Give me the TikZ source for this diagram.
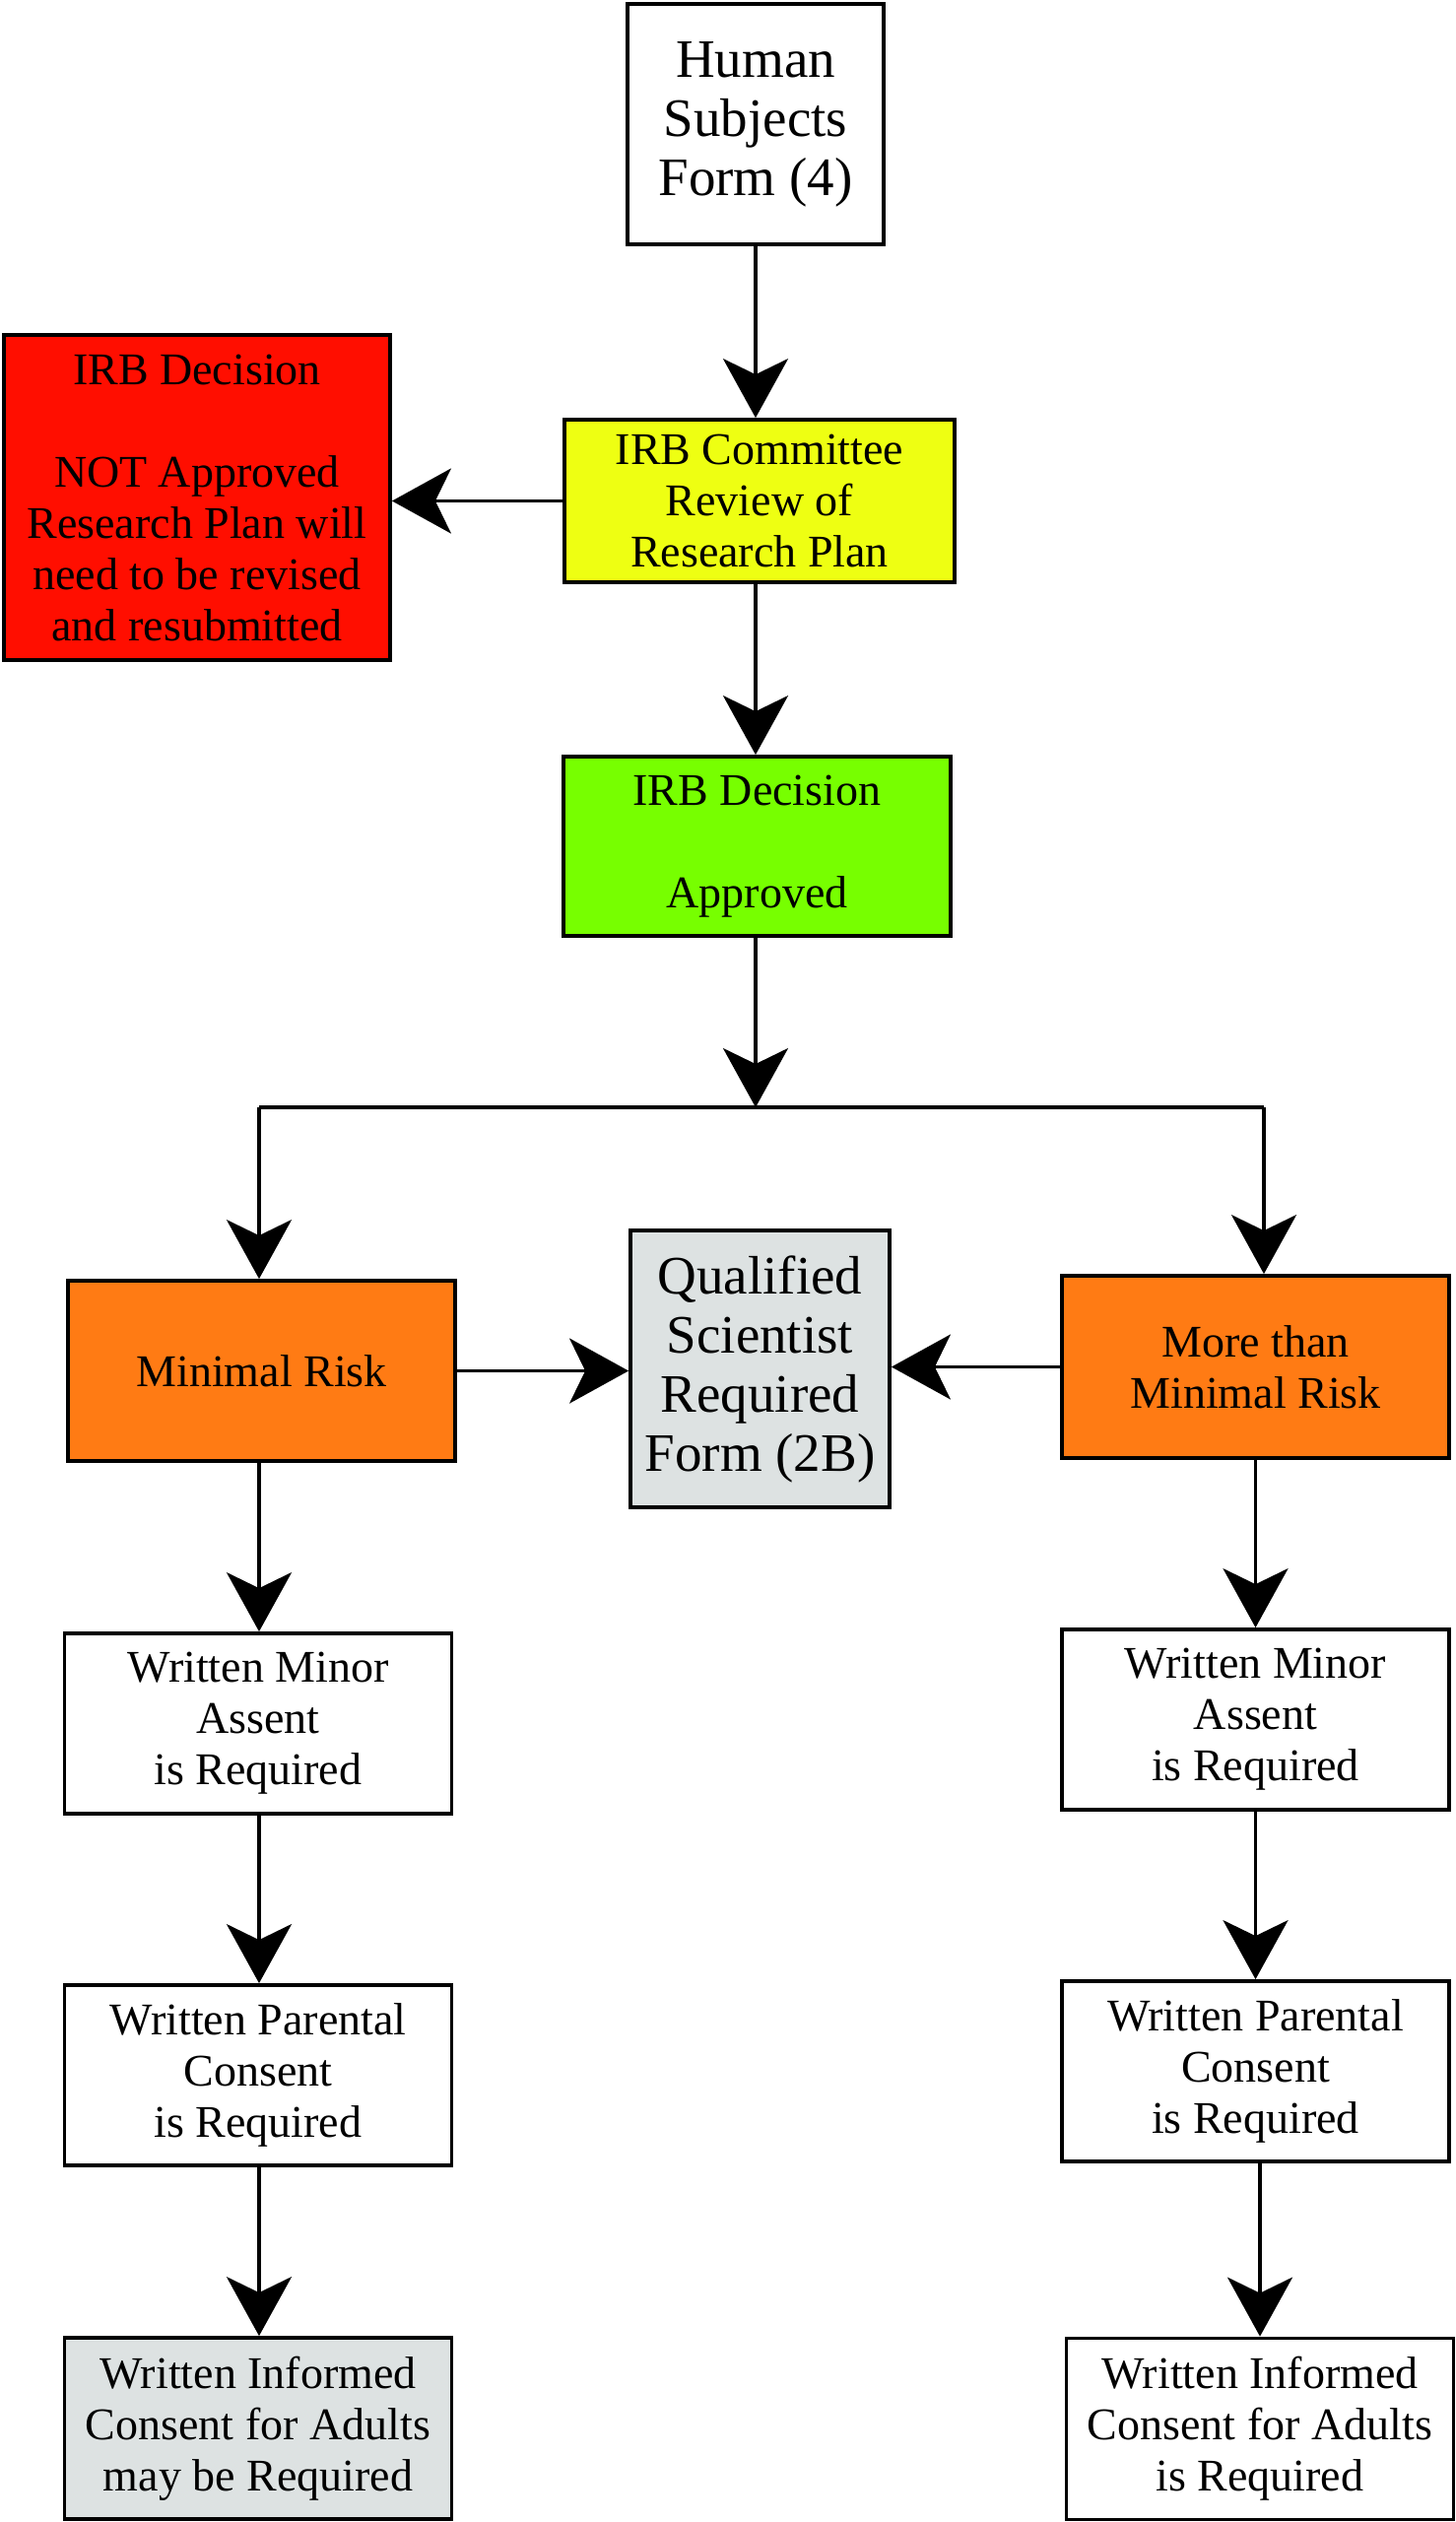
\documentclass[tikz,border=0pt]{standalone}
\usepackage{fontspec}
\setmainfont{Liberation Serif}
\usetikzlibrary{arrows.meta}
\definecolor{cred}{RGB}{255,14,0}
\definecolor{cyellow}{RGB}{238,255,18}
\definecolor{cgreen}{RGB}{119,255,0}
\definecolor{corange}{RGB}{255,123,20}
\definecolor{cgray}{RGB}{221,226,226}
\begin{document}
\begin{tikzpicture}[x=0.5pt,y=-0.5pt,
  box/.style={draw=black,line width=1.9pt,align=center,inner sep=0pt,
    font=\fontsize{23}{26}\selectfont,text=black},
  bigbox/.style={box,font=\fontsize{27.5}{30}\selectfont},
  wide/.style={minimum width=196.5pt,minimum height=91.5pt},
  conn/.style={line width=1.6pt,-{Stealth[length=30pt,width=33pt,inset=8pt]}},
  link/.style={line width=1.8pt}
]
\useasboundingbox (0,0) rectangle (1478,2560);
\fill[white] (0,0) rectangle (1478,2560);

\node[bigbox,fill=white,minimum width=130pt,minimum height=122pt] (hs) at (767,126) {Human\\Subjects\\Form (4)};
\node[box,fill=cred,minimum width=196pt,minimum height=165pt] (red) at (200,505)
  {IRB Decision\\[26pt]NOT Approved\\Research Plan will\\need to be revised\\and resubmitted};
\node[box,fill=cyellow,minimum width=198pt,minimum height=82.5pt] (comm) at (771,508.5)
  {IRB Committee\\Review of\\Research Plan};
\node[box,fill=cgreen,minimum width=196.5pt,minimum height=91pt] (appr) at (768.5,859)
  {IRB Decision\\[26pt]Approved};

\node[box,wide,fill=corange] (mr) at (265.5,1391.5) {Minimal Risk};
\node[bigbox,fill=cgray,minimum width=131.5pt,minimum height=140.5pt] (qs) at (771.5,1389.5)
  {Qualified\\Scientist\\Required\\Form (2B)};
\node[box,wide,minimum height=92.5pt,fill=corange] (mmr) at (1274.5,1387.5) {More than\\Minimal Risk};

\node[box,wide,fill=white] (wmaL) at (262,1749.5) {Written Minor\\Assent\\is Required};
\node[box,wide,fill=white] (wmaR) at (1274.5,1745.5) {Written Minor\\Assent\\is Required};
\node[box,wide,fill=white] (wpcL) at (262,2106.5) {Written Parental\\Consent\\is Required};
\node[box,wide,fill=white] (wpcR) at (1274.5,2102.5) {Written Parental\\Consent\\is Required};
\node[box,wide,minimum height=92pt,fill=cgray] (wicL) at (262,2465) {Written Informed\\Consent for Adults\\may be Required};
\node[box,wide,minimum height=92pt,fill=white] (wicR) at (1279,2465.5) {Written Informed\\Consent for Adults\\is Required};

\coordinate (jC) at (768,1124);
\coordinate (jL) at (263,1124);
\coordinate (jR) at (1283,1124);

\draw[conn] (hs.south) -- (hs.south |- comm.north);
\draw[conn] (comm.west) -- (comm.west -| red.east);
\draw[conn] (hs.south |- comm.south) -- (hs.south |- appr.north);
\draw[conn] (hs.south |- appr.south) -- (hs.south |- jC);
\draw[link] (jL) -- (jR);
\draw[conn] (jL) -- (jL |- mr.north);
\draw[conn] (jR) -- (jR |- mmr.north);
\draw[conn] (mr.east) -- (mr.east -| qs.west);
\draw[conn] (mmr.west) -- (mmr.west -| qs.east);
\draw[conn] (jL |- mr.south) -- (jL |- wmaL.north);
\draw[conn] (jL |- wmaL.south) -- (jL |- wpcL.north);
\draw[conn] (jL |- wpcL.south) -- (jL |- wicL.north);
\draw[conn] (mmr.south) -- (mmr.south |- wmaR.north);
\draw[conn] (wmaR.south) -- (wmaR.south |- wpcR.north);
\draw[conn] (wpcR.south -| wicR.north) -- (wicR.north);
\end{tikzpicture}
\end{document}
